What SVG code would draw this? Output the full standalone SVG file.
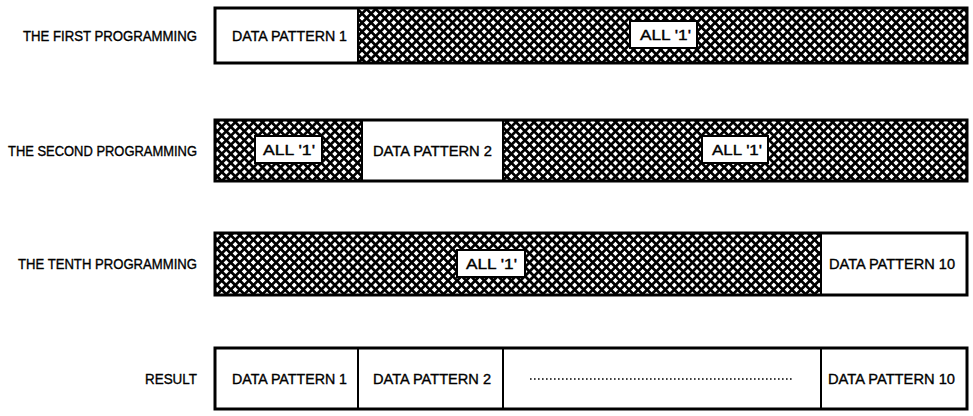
<svg xmlns="http://www.w3.org/2000/svg" width="973" height="416" viewBox="0 0 973 416">
<defs>
<pattern id="hatch" width="6.4" height="6.4" patternUnits="userSpaceOnUse" patternTransform="rotate(45)">
<rect width="6.4" height="6.4" fill="#fff"/>
<path d="M0,3.2 H6.4 M3.2,0 V6.4" stroke="#000" stroke-width="2.7"/>
</pattern>
</defs>
<style>
text{font-family:"Liberation Sans",Arial,sans-serif;font-size:14px;fill:#000;stroke:#000;stroke-width:0.35}
.lbl{text-anchor:end}
.bar{fill:none;stroke:#000;stroke-width:3}
.hat{fill:url(#hatch);stroke:none}
.wh{fill:#fff;stroke:none}
.div{stroke:#000;stroke-width:2;fill:none}
.box{fill:#fff;stroke:#000;stroke-width:2}
.dots{stroke:#000;stroke-width:1.6;stroke-dasharray:1.6 2.4;fill:none}
</style>

<g id="row1">
<text class="lbl" x="197" y="40.5" textLength="174" lengthAdjust="spacingAndGlyphs">THE FIRST PROGRAMMING</text>
<rect class="wh" x="215" y="8" width="143" height="55"/>
<rect class="hat" x="358" y="8" width="609" height="55"/>
<line class="div" x1="358" y1="8" x2="358" y2="63"/>
<rect class="bar" x="215" y="8" width="752" height="55"/>
<text x="232" y="40.5" textLength="115" lengthAdjust="spacingAndGlyphs">DATA PATTERN 1</text>
<rect class="box" x="630" y="21" width="67" height="27"/>
<text x="640" y="39.5" textLength="51" lengthAdjust="spacingAndGlyphs">ALL '1'</text>
</g>

<g id="row2">
<text class="lbl" x="197" y="155.5" textLength="189" lengthAdjust="spacingAndGlyphs">THE SECOND PROGRAMMING</text>
<rect class="hat" x="215" y="120" width="147" height="61"/>
<rect class="wh" x="362" y="120" width="141" height="61"/>
<rect class="hat" x="503" y="120" width="464" height="61"/>
<line class="div" x1="362" y1="120" x2="362" y2="181"/>
<line class="div" x1="503" y1="120" x2="503" y2="181"/>
<rect class="bar" x="215" y="120" width="752" height="61"/>
<rect class="box" x="255" y="136" width="67" height="27"/>
<text x="263" y="154.5" textLength="52" lengthAdjust="spacingAndGlyphs">ALL '1'</text>
<text x="373" y="155.5" textLength="119" lengthAdjust="spacingAndGlyphs">DATA PATTERN 2</text>
<rect class="box" x="702" y="136" width="66" height="27"/>
<text x="712" y="154.5" textLength="50" lengthAdjust="spacingAndGlyphs">ALL '1'</text>
</g>

<g id="row3">
<text class="lbl" x="197" y="269" textLength="179" lengthAdjust="spacingAndGlyphs">THE TENTH PROGRAMMING</text>
<rect class="hat" x="215" y="233" width="606" height="62"/>
<rect class="wh" x="821" y="233" width="146" height="62"/>
<line class="div" x1="821" y1="233" x2="821" y2="295"/>
<rect class="bar" x="215" y="233" width="752" height="62"/>
<rect class="box" x="457" y="250" width="68" height="27"/>
<text x="466" y="268.5" textLength="51" lengthAdjust="spacingAndGlyphs">ALL '1'</text>
<text x="829" y="269" textLength="126" lengthAdjust="spacingAndGlyphs">DATA PATTERN 10</text>
</g>

<g id="row4">
<text class="lbl" x="197" y="383.5" textLength="52" lengthAdjust="spacingAndGlyphs">RESULT</text>
<rect class="wh" x="215" y="348" width="752" height="61"/>
<line class="div" x1="358" y1="348" x2="358" y2="409"/>
<line class="div" x1="503" y1="348" x2="503" y2="409"/>
<line class="div" x1="821" y1="348" x2="821" y2="409"/>
<rect class="bar" x="215" y="348" width="752" height="61"/>
<text x="232" y="383.5" textLength="115" lengthAdjust="spacingAndGlyphs">DATA PATTERN 1</text>
<text x="373" y="383.5" textLength="118" lengthAdjust="spacingAndGlyphs">DATA PATTERN 2</text>
<line class="dots" x1="530" y1="379" x2="794" y2="379"/>
<text x="828" y="383.5" textLength="127" lengthAdjust="spacingAndGlyphs">DATA PATTERN 10</text>
</g>
</svg>
